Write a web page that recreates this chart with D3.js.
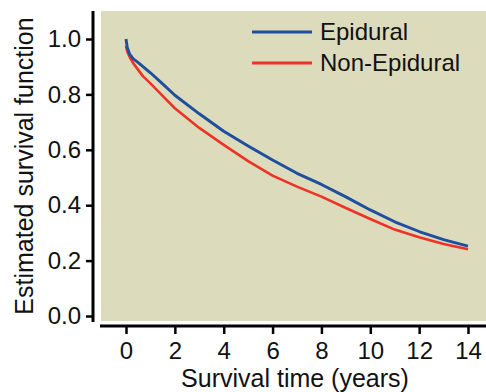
<!DOCTYPE html>
<html>
<head>
<meta charset="utf-8">
<script src="https://cdn.jsdelivr.net/npm/d3@7"></script>
<style>
  html, body { margin: 0; padding: 0; background: #ffffff; }
  svg { display: block; }
</style>
</head>
<body>
<div id="chart"></div>
<script>
// Kaplan-Meier style survival curves, Epidural vs Non-Epidural

const W = 486, H = 392;

const seriesNames = ['Epidural', 'Non-Epidural'];
const seriesColors = ['#1f4e9f', '#ee3226'];

const epiTime = [0, 0.05, 0.15, 0.3, 0.5, 1, 1.5, 2, 3, 4, 5, 6, 7, 8, 9, 10, 11, 12, 13, 14];
const epiSurv = [1.0, 0.97, 0.945, 0.928, 0.915, 0.878, 0.838, 0.797, 0.73, 0.667, 0.614, 0.563, 0.515, 0.475, 0.43, 0.383, 0.34, 0.305, 0.276, 0.252];

const nonTime = [0, 0.05, 0.15, 0.3, 0.7, 1, 1.5, 2, 3, 4, 5, 6, 7, 8, 9, 10, 11, 12, 13, 14];
const nonSurv = [0.975, 0.955, 0.935, 0.912, 0.865, 0.84, 0.795, 0.75, 0.679, 0.618, 0.559, 0.507, 0.467, 0.431, 0.39, 0.35, 0.312, 0.284, 0.26, 0.241];

const xTicks = [0, 2, 4, 6, 8, 10, 12, 14];
const yTicks = [0.0, 0.2, 0.4, 0.6, 0.8, 1.0];

const FONT = 'Liberation Sans, Arial, Helvetica, sans-serif';

const x = d3.scaleLinear().domain([0, 14]).range([126, 468]);
const y = d3.scaleLinear().domain([0, 1]).range([316, 39]);

const svg = d3.select('#chart')
  .append('svg')
  .attr('width', W)
  .attr('height', H);

// plot panel background
svg.append('rect')
  .attr('x', 101)
  .attr('y', 11)
  .attr('width', W - 101)
  .attr('height', 321 - 11)
  .attr('fill', '#dcdbbc');

// y axis
const yAxis = d3.axisLeft(y)
  .tickValues(yTicks)
  .tickFormat(d3.format('.1f'))
  .tickSize(7)
  .tickPadding(5);

const yg = svg.append('g')
  .attr('transform', 'translate(93,0)')
  .call(yAxis);
yg.select('.domain')
  .attr('d', 'M0,11V322')
  .attr('stroke', '#000')
  .attr('stroke-width', 3);
yg.selectAll('.tick line').attr('stroke', '#000').attr('stroke-width', 2.5);
yg.selectAll('.tick text')
  .attr('fill', '#111')
  .style('font-family', FONT)
  .style('font-size', '24px');

// x axis
const xAxis = d3.axisBottom(x)
  .tickValues(xTicks)
  .tickFormat(d3.format('d'))
  .tickSize(8)
  .tickPadding(8);

const xg = svg.append('g')
  .attr('transform', 'translate(0,326)')
  .call(xAxis);
xg.select('.domain')
  .attr('d', 'M100,0H' + W)
  .attr('stroke', '#000')
  .attr('stroke-width', 3);
xg.selectAll('.tick line').attr('stroke', '#000').attr('stroke-width', 2.5);
xg.selectAll('.tick text')
  .attr('fill', '#111')
  .style('font-family', FONT)
  .style('font-size', '24px');

// axis titles
svg.append('text')
  .attr('x', 295)
  .attr('y', 387)
  .attr('text-anchor', 'middle')
  .attr('fill', '#111')
  .style('font-family', FONT)
  .style('font-size', '25px')
  .text('Survival time (years)');

svg.append('text')
  .attr('transform', 'translate(33,166) rotate(-90)')
  .attr('text-anchor', 'middle')
  .attr('fill', '#111')
  .style('font-family', FONT)
  .style('font-size', '25px')
  .text('Estimated survival function');

// curves
const line = d3.line()
  .x(function(d) { return x(d[0]); })
  .y(function(d) { return y(d[1]); });

const nonData = d3.zip(nonTime, nonSurv);
const epiData = d3.zip(epiTime, epiSurv);

svg.append('path')
  .attr('d', line(nonData))
  .attr('fill', 'none')
  .attr('stroke', seriesColors[1])
  .attr('stroke-width', 2.6)
  .attr('stroke-linejoin', 'round');

svg.append('path')
  .attr('d', line(epiData))
  .attr('fill', 'none')
  .attr('stroke', seriesColors[0])
  .attr('stroke-width', 2.9)
  .attr('stroke-linejoin', 'round');

// legend
const legend = svg.append('g');
seriesNames.forEach(function(name, i) {
  const ly = 32 + i * 31;
  legend.append('line')
    .attr('x1', 252).attr('x2', 312)
    .attr('y1', ly).attr('y2', ly)
    .attr('stroke', seriesColors[i])
    .attr('stroke-width', 3);
  legend.append('text')
    .attr('x', 320)
    .attr('y', ly + 8)
    .attr('fill', '#111')
    .style('font-family', FONT)
    .style('font-size', '24px')
    .text(name);
});
</script>
</body>
</html>
